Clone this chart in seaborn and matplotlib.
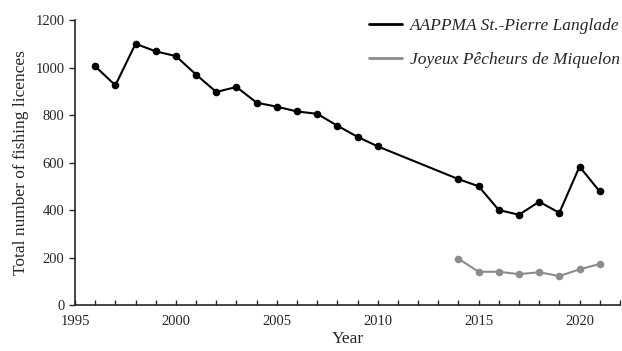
import numpy as np
import pandas as pd
import matplotlib
matplotlib.use("Agg")
import matplotlib.pyplot as plt
import seaborn as sns
from matplotlib.ticker import MultipleLocator

# values
years_spl = [1996, 1997, 1998, 1999, 2000, 2001, 2002, 2003, 2004, 2005, 2006,
             2007, 2008, 2009, 2010, 2014, 2015, 2016, 2017, 2018, 2019, 2020, 2021]
licences_spl = [1005, 925, 1100, 1068, 1048, 970, 897, 918, 852, 835, 815,
                805, 755, 708, 668, 530, 500, 400, 380, 435, 388, 583, 478]

years_miq = [2014, 2015, 2016, 2017, 2018, 2019, 2020, 2021]
licences_miq = [195, 140, 140, 130, 138, 122, 150, 173]

name_spl = "AAPPMA St.-Pierre Langlade"
name_miq = "Joyeux Pêcheurs de Miquelon"

df = pd.concat([
    pd.DataFrame({"Year": years_spl, "Licences": licences_spl, "Club": name_spl}),
    pd.DataFrame({"Year": years_miq, "Licences": licences_miq, "Club": name_miq}),
])

sns.set_style("ticks")
plt.rcParams["font.family"] = ["Liberation Serif", "DejaVu Serif"]

fig = plt.figure(figsize=(6.22, 3.51), dpi=100)
ax = fig.add_axes([0.1206, 0.131, 0.876, 0.812])

sns.lineplot(data=df, x="Year", y="Licences", hue="Club",
             palette={name_spl: "black", name_miq: "#8c8c8c"},
             marker="o", markersize=5.5, markeredgewidth=0, linewidth=1.5, ax=ax)

ax.set_xlim(1995, 2022)
ax.set_ylim(0, 1200)
ax.xaxis.set_major_locator(MultipleLocator(5))
ax.xaxis.set_minor_locator(MultipleLocator(1))
ax.yaxis.set_major_locator(MultipleLocator(200))
ax.tick_params(axis="x", which="both", direction="in", length=3.5, width=1, labelsize=10.5, pad=7)
ax.tick_params(axis="y", direction="out", length=4, width=1, labelsize=10.5)
for s in ["top", "right"]:
    ax.spines[s].set_visible(False)
for s in ["left", "bottom"]:
    ax.spines[s].set_linewidth(1.2)

ax.set_xlabel("Year", fontsize=12.5, labelpad=2)
ax.set_ylabel("Total number of fishing licences", fontsize=12.5, labelpad=5)

leg = ax.legend(loc="upper right", frameon=False, handlelength=1.9, handletextpad=0.45,
                prop={"style": "italic", "size": 12.5}, labelspacing=1.0,
                borderaxespad=0.0, borderpad=0.0, bbox_to_anchor=(1.0, 1.006))
for h in leg.legend_handles:
    h.set_marker("")
    h.set_linewidth(2)

fig.savefig("out.png", dpi=100)
